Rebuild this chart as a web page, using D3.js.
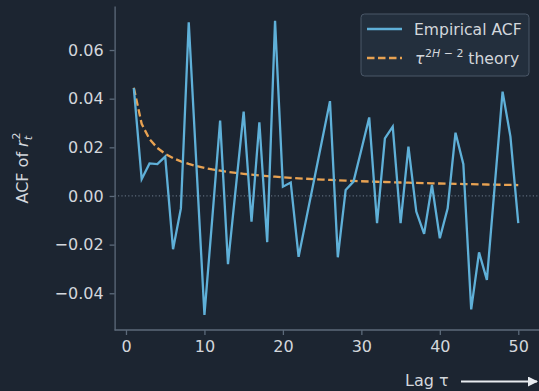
<!DOCTYPE html>
<html>
<head>
<meta charset="utf-8">
<script src="https://cdn.jsdelivr.net/npm/d3@7"></script>
<style>
  html, body { margin: 0; padding: 0; background: #1c2531; }
  svg { display: block; }
  text { font-family: "DejaVu Sans", sans-serif; }
</style>
</head>
<body>
<svg id="chart" width="539" height="391"></svg>
<script>
// Autocorrelation of squared returns, lags 1..50
const lags = d3.range(1, 51);
const acfValues = [
  0.0443, 0.0069, 0.0134, 0.0131, 0.0162, -0.0219, -0.0051, 0.0714, 0.0113, -0.0489,
  -0.0092, 0.0310, -0.0280, 0.0034, 0.0347, -0.0106, 0.0303, -0.0190, 0.0720, 0.0038,
  0.0055, -0.0250, -0.0090, 0.0070, 0.0230, 0.0390, -0.0252, 0.0025, 0.0059, 0.0190,
  0.0323, -0.0112, 0.0237, 0.0285, -0.0112, 0.0203, -0.0064, -0.0156, 0.0045, -0.0174,
  -0.0051, 0.0260, 0.0131, -0.0466, -0.0232, -0.0345, 0.0042, 0.0429, 0.0244, -0.0112
];
// Power-law reference curve tau^(2H-2)
const theoryValues = [
  0.04450, 0.02965, 0.02338, 0.01975, 0.01733, 0.01557, 0.01423, 0.01316, 0.01228, 0.01154,
  0.01092, 0.01038, 0.00990, 0.00948, 0.00910, 0.00877, 0.00846, 0.00818, 0.00793, 0.00769,
  0.00747, 0.00727, 0.00708, 0.00691, 0.00675, 0.00660, 0.00645, 0.00631, 0.00619, 0.00606,
  0.00595, 0.00584, 0.00574, 0.00563, 0.00554, 0.00545, 0.00536, 0.00528, 0.00520, 0.00512,
  0.00505, 0.00498, 0.00491, 0.00485, 0.00478, 0.00472, 0.00466, 0.00460, 0.00455, 0.00449
];
const xTicks = [0, 10, 20, 30, 40, 50];
const yTicks = [-0.04, -0.02, 0.00, 0.02, 0.04, 0.06];

const C = {
  bg: "#1c2531", text: "#d3d7dc", spine: "#5c6a7a",
  acf: "#5fb0d8", theory: "#e8a252", legendBg: "#232f3d", legendEdge: "#4b5868"
};

const svg = d3.select("#chart");
const plot = { left: 114.6, right: 537.5, top: 6, bottom: 330 };

const x = d3.scaleLinear().domain([-1.45, 52.45]).range([plot.left, plot.right]);
const y = d3.scaleLinear().domain([-0.0551, 0.0781]).range([plot.bottom, plot.top]);

svg.append("rect").attr("width", 539).attr("height", 391).attr("fill", C.bg);

// zero reference line
svg.append("line")
  .attr("x1", plot.left).attr("x2", plot.right + 2)
  .attr("y1", y(0)).attr("y2", y(0))
  .attr("stroke", C.spine).attr("stroke-width", 1.2)
  .attr("stroke-dasharray", "1.2,2.2");

// theory curve
const line = d3.line().x((d, i) => x(lags[i])).y(d => y(d));
svg.append("path")
  .datum(theoryValues)
  .attr("d", line)
  .attr("fill", "none")
  .attr("stroke", C.theory).attr("stroke-width", 2.3)
  .attr("stroke-dasharray", "7.5,3.5");

// empirical ACF
svg.append("path")
  .datum(acfValues)
  .attr("d", line)
  .attr("fill", "none")
  .attr("stroke", C.acf).attr("stroke-width", 2.3)
  .attr("stroke-linejoin", "miter");

// axes
const xAxis = d3.axisBottom(x).tickValues(xTicks).tickFormat(d3.format("d"))
  .tickSizeInner(5).tickSizeOuter(0).tickPadding(6);
const yAxis = d3.axisLeft(y).tickValues(yTicks).tickFormat(d3.format(".2f"))
  .tickSizeInner(5).tickSizeOuter(0).tickPadding(6);

const gx = svg.append("g").attr("transform", `translate(0,${plot.bottom})`).call(xAxis);
const gy = svg.append("g").attr("transform", `translate(${plot.left},0)`).call(yAxis);

gx.select(".domain").attr("d", `M${plot.left},0H539`);
[gx, gy].forEach(g => {
  g.select(".domain").attr("stroke", C.spine).attr("stroke-width", 1.3);
  g.selectAll(".tick line").attr("stroke", C.spine).attr("stroke-width", 1.3);
  g.selectAll(".tick text").attr("fill", C.text)
    .attr("font-family", "DejaVu Sans").attr("font-size", 16);
});

// y label: ACF of r_t^2
const yl = svg.append("text")
  .attr("transform", `translate(28,${(plot.top + plot.bottom) / 2}) rotate(-90)`)
  .attr("text-anchor", "middle")
  .attr("fill", C.text).attr("font-size", 16);
yl.append("tspan").text("ACF of ");
yl.append("tspan").attr("font-style", "italic").text("r");
yl.append("tspan").attr("font-size", 11).attr("font-style", "italic").attr("dy", 4).text("t");
yl.append("tspan").attr("font-size", 11).attr("dx", -3.5).attr("dy", -12).text("2");

// x label with arrow
svg.append("text")
  .attr("x", 405).attr("y", 386)
  .attr("fill", C.text).attr("font-size", 16)
  .text("Lag τ");

const defs = svg.append("defs");
defs.append("marker")
  .attr("id", "arrowhead")
  .attr("viewBox", "0 0 10 10")
  .attr("refX", 9).attr("refY", 5)
  .attr("markerWidth", 5).attr("markerHeight", 5)
  .attr("markerUnits", "strokeWidth")
  .attr("orient", "auto")
  .append("path").attr("d", "M0,0L10,5L0,10Z").attr("fill", "#e8ecf0");
svg.append("line")
  .attr("x1", 461).attr("x2", 537).attr("y1", 381.5).attr("y2", 381.5)
  .attr("stroke", "#e8ecf0").attr("stroke-width", 2)
  .attr("marker-end", "url(#arrowhead)");

// legend
const lg = svg.append("g");
lg.append("rect")
  .attr("x", 361).attr("y", 14).attr("width", 168).attr("height", 62)
  .attr("rx", 3.5)
  .attr("fill", C.legendBg).attr("stroke", C.legendEdge).attr("stroke-width", 1);
lg.append("line")
  .attr("x1", 367).attr("x2", 402).attr("y1", 29).attr("y2", 29)
  .attr("stroke", C.acf).attr("stroke-width", 2.3);
lg.append("text")
  .attr("x", 414).attr("y", 35)
  .attr("fill", C.text).attr("font-size", 15.6)
  .text("Empirical ACF");
lg.append("line")
  .attr("x1", 367).attr("x2", 402).attr("y1", 58).attr("y2", 58)
  .attr("stroke", C.theory).attr("stroke-width", 2.3)
  .attr("stroke-dasharray", "7.5,3.5");
const lt = lg.append("text")
  .attr("x", 415).attr("y", 64)
  .attr("fill", C.text).attr("font-size", 15.6);
lt.append("tspan").attr("font-style", "italic").text("τ");
lt.append("tspan").attr("font-size", 11).attr("dy", -7).attr("dx", 0.5)
  .html('2<tspan font-style="italic">H</tspan> − 2');
lt.append("tspan").attr("dy", 7).text(" theory");
</script>
</body>
</html>
